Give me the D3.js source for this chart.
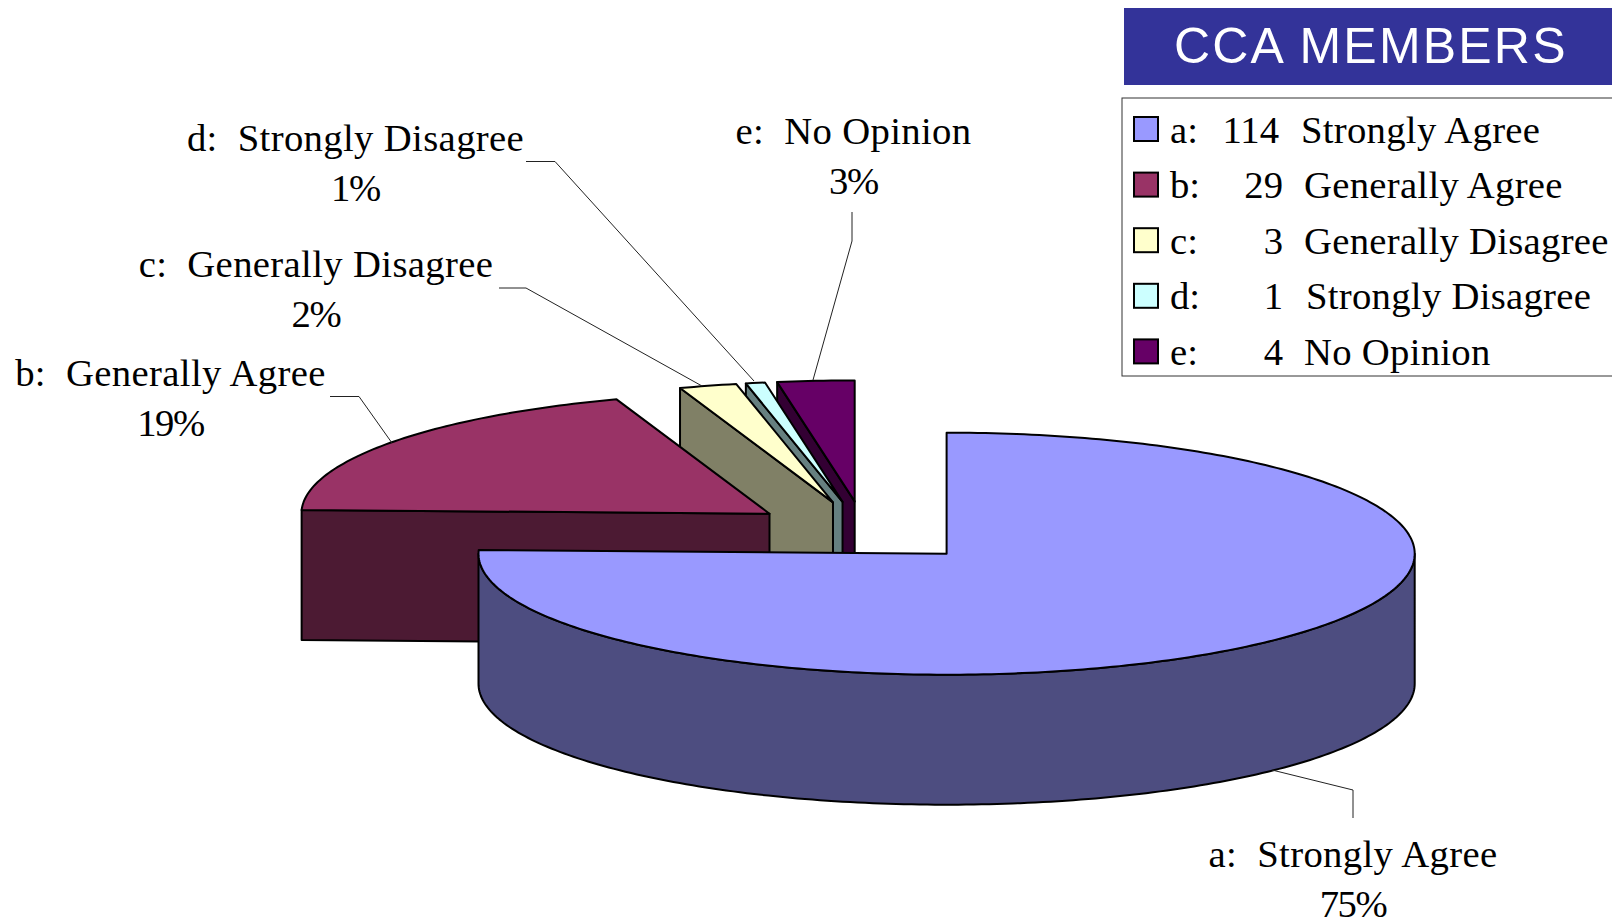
<!DOCTYPE html>
<html>
<head>
<meta charset="utf-8">
<script src="https://cdn.jsdelivr.net/npm/d3@7"></script>
<style>
  html, body { margin: 0; padding: 0; background: #fff; }
  svg { display: block; }
  text { white-space: pre; }
</style>
</head>
<body>
<div id="chart"></div>
<script>
// Survey values
const keys = ["a", "b", "c", "d", "e"];
const names = ["Strongly Agree", "Generally Agree", "Generally Disagree", "Strongly Disagree", "No Opinion"];
const counts = [114, 29, 3, 1, 4];
const percents = ["75%", "19%", "2%", "1%", "3%"];
const colors = ["#9999ff", "#993366", "#ffffcc", "#ccffff", "#660066"];
const wallColors = ["#4d4d80", "#4c1a33", "#808066", "#668080", "#330033"];
const title = "CCA MEMBERS";

const width = 1612;
const height = 920;

// Flattened pie: the scales map the unit circle onto the page
const explode = 0.252;
const depth = 130;
const xScale = d3.scaleLinear().domain([-1, 1]).range([396.4, 1332.6]);
const yScale = d3.scaleLinear().domain([-1, 1]).range([410.8, 652.8]);

// Leader lines and label positions, in page pixels, same order as keys
const labelPos = [
    { x: 1353, y: 867, line: [[1272, 770], [1353, 790], [1353, 818]] },
    { x: 170.5, y: 386, line: [[330, 396.5], [359, 396.5], [392, 443]] },
    { x: 316, y: 277, line: [[499, 288], [526, 288], [702, 386]] },
    { x: 355.5, y: 151, line: [[526, 161.5], [555, 161.5], [754, 381]] },
    { x: 853.5, y: 144, line: [[852, 212], [852, 241], [813, 380]] }
];

const svg = d3.select("#chart")
    .append("svg")
    .attr("width", width)
    .attr("height", height);

const pie = d3.pie().sort(null).startAngle(0).endAngle(2 * Math.PI);
const slices = pie(counts);

// Point on the pie for one slice, r = 1 is the rim
function project(slice, angle, r, drop) {
    const mid = (slice.startAngle + slice.endAngle) / 2;
    const ux = explode * Math.sin(mid) + r * Math.sin(angle);
    const uy = -explode * Math.cos(mid) - r * Math.cos(angle);
    return [xScale(ux), yScale(uy) + drop];
}

function rimAngles(a0, a1) {
    const n = Math.max(2, Math.ceil((a1 - a0) * 60));
    return d3.range(n + 1).map(i => a0 + (a1 - a0) * i / n);
}

const line = d3.line();
const pieGroup = svg.append("g").attr("stroke", "#000").attr("stroke-width", 2).attr("stroke-linejoin", "round");

// Painter's order, back slices first
[4, 3, 2, 1, 0].forEach(i => {
    const s = slices[i];
    const g = pieGroup.append("g").attr("class", "slice-" + keys[i]);

    // Cut wall along the start edge
    if (s.startAngle > Math.PI) {
        const wall = [
            project(s, s.startAngle, 0, 0),
            project(s, s.startAngle, 1, 0),
            project(s, s.startAngle, 1, depth),
            project(s, s.startAngle, 0, depth)
        ];
        g.append("path").attr("d", line(wall) + "Z").attr("fill", wallColors[i]);
    }

    // Outer wall, only the part that faces the viewer
    const a0 = Math.max(s.startAngle, Math.PI / 2);
    const a1 = Math.min(s.endAngle, 3 * Math.PI / 2);
    if (a1 > a0) {
        const angles = rimAngles(a0, a1);
        const wall = angles.map(a => project(s, a, 1, 0))
            .concat(angles.slice().reverse().map(a => project(s, a, 1, depth)));
        g.append("path").attr("d", line(wall) + "Z").attr("fill", wallColors[i]);
    }

    // Top face
    const top = [project(s, s.startAngle, 0, 0)]
        .concat(rimAngles(s.startAngle, s.endAngle).map(a => project(s, a, 1, 0)));
    g.append("path").attr("d", line(top) + "Z").attr("fill", colors[i]);
});

// Leader lines
svg.append("g")
    .selectAll("path")
    .data(labelPos)
    .enter()
    .append("path")
    .attr("d", d => line(d.line))
    .attr("fill", "none")
    .attr("stroke", "#222")
    .attr("stroke-width", 1);

// Data labels
const labelFont = "'Liberation Serif', 'Times New Roman', serif";
const labels = svg.append("g")
    .attr("font-family", labelFont)
    .attr("font-size", 38.7)
    .attr("fill", "#000")
    .attr("text-anchor", "middle");

labelPos.forEach((p, i) => {
    labels.append("text")
        .attr("x", p.x)
        .attr("y", p.y)
        .attr("letter-spacing", 0.35)
        .text(keys[i] + ":  " + names[i]);
    labels.append("text")
        .attr("x", p.x)
        .attr("y", p.y + 50)
        .attr("letter-spacing", -1.4)
        .text(percents[i]);
});

// Title band
svg.append("rect")
    .attr("x", 1124)
    .attr("y", 8)
    .attr("width", 488)
    .attr("height", 77)
    .attr("fill", "#333399");

svg.append("text")
    .attr("x", 1174)
    .attr("y", 63)
    .attr("font-family", "'Liberation Sans', Arial, sans-serif")
    .attr("font-size", 50)
    .attr("letter-spacing", 2.2)
    .attr("fill", "#fff")
    .text(title);

// Legend
const legendY = d3.scaleBand().domain(keys).range([101, 379]);
const countX = [1279, 1283, 1283, 1283, 1283];
const nameX = [1301, 1304, 1304, 1306, 1304];

svg.append("rect")
    .attr("x", 1122)
    .attr("y", 98)
    .attr("width", 520)
    .attr("height", 278)
    .attr("fill", "#fff")
    .attr("stroke", "#333")
    .attr("stroke-width", 1);

const legendRows = svg.append("g")
    .selectAll("g")
    .data(keys)
    .enter()
    .append("g")
    .attr("transform", d => "translate(0," + legendY(d) + ")")
    .attr("font-family", labelFont)
    .attr("font-size", 38.7)
    .attr("fill", "#000");

legendRows.append("rect")
    .attr("x", 1134)
    .attr("y", 16)
    .attr("width", 24)
    .attr("height", 24)
    .attr("fill", (d, i) => colors[i])
    .attr("stroke", "#000")
    .attr("stroke-width", 2);

legendRows.append("text")
    .attr("x", 1170)
    .attr("y", 41.5)
    .text(d => d + ":");

legendRows.append("text")
    .attr("x", (d, i) => countX[i])
    .attr("y", 41.5)
    .attr("text-anchor", "end")
    .text((d, i) => counts[i]);

legendRows.append("text")
    .attr("x", (d, i) => nameX[i])
    .attr("y", 41.5)
    .attr("letter-spacing", 0.28)
    .text((d, i) => names[i]);
</script>
</body>
</html>
